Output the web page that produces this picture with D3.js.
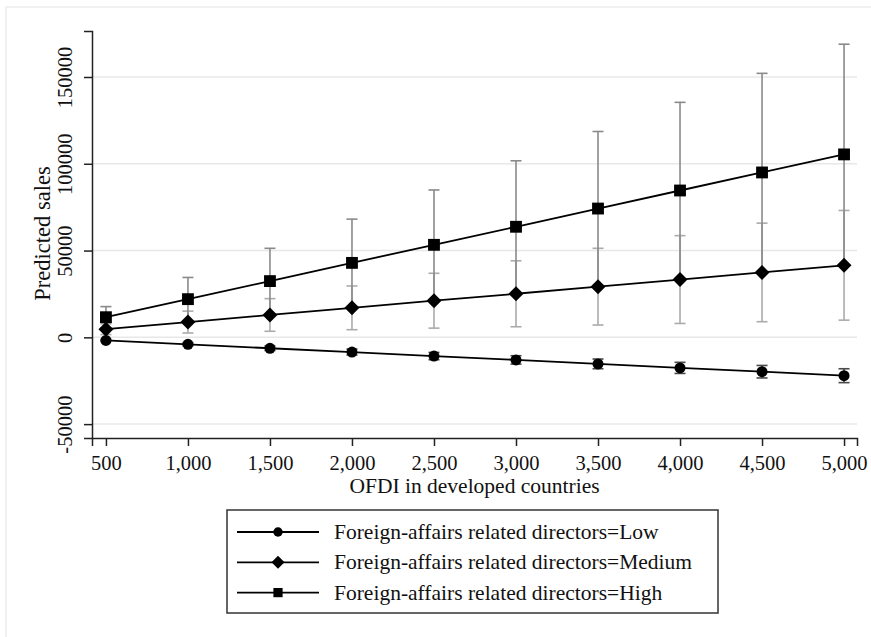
<!DOCTYPE html>
<html>
<head>
<meta charset="utf-8">
<script src="https://cdn.jsdelivr.net/npm/d3@7"></script>
<style>
  body { margin: 0; background: #fff; }
  svg { font-family: "Liberation Serif", "Times New Roman", serif; }
</style>
</head>
<body>
<figure style="margin:0"></figure>
<script>
// OFDI values on the x axis
const ofdi = [500, 1000, 1500, 2000, 2500, 3000, 3500, 4000, 4500, 5000];

// predicted sales per group, and the half width of each confidence interval
const lowSales = [-1800, -4000, -6300, -8500, -10800, -13000, -15300, -17600, -19800, -22100];
const lowCi = [500, 900, 1300, 1700, 2100, 2400, 2800, 3200, 3600, 4000];
const mediumSales = [4700, 8800, 12900, 17000, 21100, 25100, 29200, 33300, 37400, 41500];
const mediumCi = [3100, 6300, 9400, 12600, 15800, 19000, 22100, 25300, 28400, 31600];
const highSales = [11600, 22000, 32400, 42900, 53300, 63700, 74200, 84600, 95000, 105400];
const highCi = [6100, 12500, 18900, 25200, 31600, 38000, 44400, 50800, 57100, 63500];

const yTicks = [-50000, 0, 50000, 100000, 150000];
const groupNames = ["Low", "Medium", "High"];

const width = 871, height = 637;

const svg = d3.select('figure')
  .append('svg')
  .attr('width', width)
  .attr('height', height);

// light frame round the graph region
svg.append('line').attr('x1', 6).attr('x2', width).attr('y1', 7).attr('y2', 7)
  .attr('stroke', '#ececec').attr('stroke-width', 1.5);
svg.append('line').attr('x1', 6).attr('x2', 6).attr('y1', 7).attr('y2', height)
  .attr('stroke', '#ececec').attr('stroke-width', 1.5);

const x = d3.scaleLinear().domain([415, 5079]).range([92, 857]);
const y = d3.scaleLinear().domain([-58000, 176500]).range([438, 31]);

// gridlines
svg.append('g')
  .selectAll('line')
  .data(yTicks)
  .enter()
  .append('line')
  .attr('x1', x.range()[0])
  .attr('x2', x.range()[1])
  .attr('y1', d => y(d))
  .attr('y2', d => y(d))
  .attr('stroke', '#e8e8e8')
  .attr('stroke-width', 1.5);

// y axis
const yAxis = svg.append('g')
  .attr('transform', 'translate(92,0)')
  .call(d3.axisLeft(y).tickValues(yTicks).tickSize(8).tickFormat(d => String(d)));
yAxis.select('.domain').attr('stroke', '#222').attr('stroke-width', 1.5);
yAxis.selectAll('.tick line').attr('stroke', '#222').attr('stroke-width', 1.5);
yAxis.selectAll('.tick text')
  .attr('transform', 'rotate(-90)')
  .attr('x', 0)
  .attr('y', -20)
  .attr('dy', 0)
  .attr('text-anchor', 'middle')
  .style('font-size', '20.5px')
  .style('font-family', '"Liberation Serif", serif')
  .attr('fill', '#111');

// x axis
const xAxis = svg.append('g')
  .attr('transform', 'translate(0,438)')
  .call(d3.axisBottom(x).tickValues(ofdi).tickSize(8).tickFormat(d3.format(',')));
xAxis.select('.domain').attr('stroke', '#222').attr('stroke-width', 1.5);
xAxis.selectAll('.tick line').attr('stroke', '#222').attr('stroke-width', 1.5);
xAxis.selectAll('.tick text')
  .attr('y', 32)
  .attr('dy', 0)
  .style('font-size', '20.5px')
  .style('font-family', '"Liberation Serif", serif')
  .attr('fill', '#111');

// axis titles
svg.append('text')
  .attr('x', (x.range()[0] + x.range()[1]) / 2)
  .attr('y', 493)
  .attr('text-anchor', 'middle')
  .style('font-size', '21.5px')
  .attr('fill', '#111')
  .text('OFDI in developed countries');

svg.append('text')
  .attr('transform', 'translate(50,' + ((y.range()[0] + y.range()[1]) / 2 - 1) + ') rotate(-90)')
  .attr('text-anchor', 'middle')
  .style('font-size', '22.5px')
  .attr('fill', '#111')
  .text('Predicted sales');

const groups = [
  { name: groupNames[0], values: lowSales, ci: lowCi, barColor: '#4a4a4a', symbol: d3.symbolCircle, size: 95, legendSize: 70, rot: 0 },
  { name: groupNames[1], values: mediumSales, ci: mediumCi, barColor: '#ababab', symbol: d3.symbolSquare, size: 112, legendSize: 85, rot: 45 },
  { name: groupNames[2], values: highSales, ci: highCi, barColor: '#8a8a8a', symbol: d3.symbolSquare, size: 140, legendSize: 85, rot: 0 }
];

// confidence interval caps
const capW = 5.5;
[groups[1], groups[2], groups[0]].forEach(g => {
  const rows = ofdi.map((o, i) => ({ o: o, lo: g.values[i] - g.ci[i], hi: g.values[i] + g.ci[i] }));
  const bars = svg.append('g').attr('stroke', g.barColor).attr('stroke-width', 1.6);
  bars.selectAll('.stem').data(rows).enter().append('line')
    .attr('x1', d => x(d.o)).attr('x2', d => x(d.o))
    .attr('y1', d => y(d.lo)).attr('y2', d => y(d.hi));
  bars.selectAll('.hi').data(rows).enter().append('line')
    .attr('x1', d => x(d.o) - capW).attr('x2', d => x(d.o) + capW)
    .attr('y1', d => y(d.hi)).attr('y2', d => y(d.hi));
  bars.selectAll('.lo').data(rows).enter().append('line')
    .attr('x1', d => x(d.o) - capW).attr('x2', d => x(d.o) + capW)
    .attr('y1', d => y(d.lo)).attr('y2', d => y(d.lo));
});

// lines and markers
const line = d3.line().x((d, i) => x(ofdi[i])).y(d => y(d));
groups.forEach(g => {
  svg.append('path')
    .datum(g.values)
    .attr('d', line)
    .attr('fill', 'none')
    .attr('stroke', '#000')
    .attr('stroke-width', 1.8);
  svg.append('g')
    .selectAll('path')
    .data(g.values)
    .enter()
    .append('path')
    .attr('d', d3.symbol().type(g.symbol).size(g.size))
    .attr('transform', (d, i) => 'translate(' + x(ofdi[i]) + ',' + y(d) + ') rotate(' + g.rot + ')')
    .attr('fill', '#000');
});

// legend
const legend = svg.append('g');
legend.append('rect')
  .attr('x', 227).attr('y', 510)
  .attr('width', 491).attr('height', 103)
  .attr('fill', '#fff')
  .attr('stroke', '#333')
  .attr('stroke-width', 1.5);

groups.forEach((g, i) => {
  const cy = 532 + i * 30.3;
  legend.append('line')
    .attr('x1', 237).attr('x2', 319)
    .attr('y1', cy).attr('y2', cy)
    .attr('stroke', '#000').attr('stroke-width', 1.8);
  legend.append('path')
    .attr('d', d3.symbol().type(g.symbol).size(g.legendSize))
    .attr('transform', 'translate(278,' + cy + ') rotate(' + g.rot + ')')
    .attr('fill', '#000');
  legend.append('text')
    .attr('x', 334)
    .attr('y', cy + 7)
    .style('font-size', '21.5px')
    .attr('fill', '#111')
    .text('Foreign-affairs related directors=' + g.name);
});
</script>
</body>
</html>
